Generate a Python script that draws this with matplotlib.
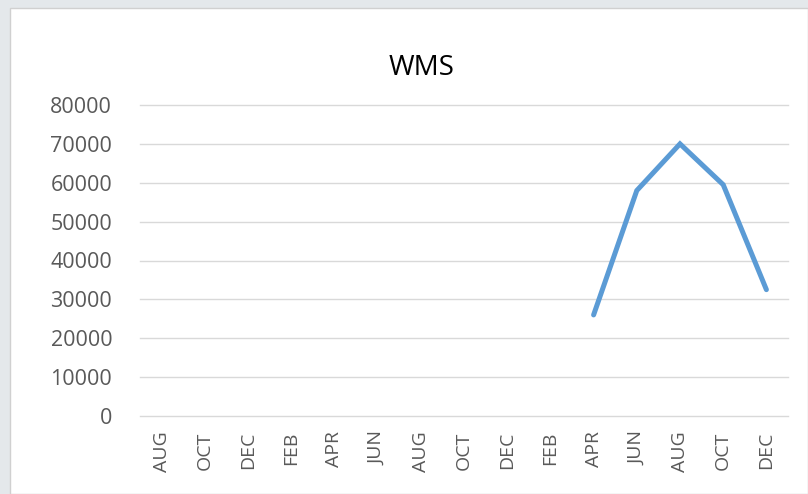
import numpy as np
import matplotlib.pyplot as plt
from matplotlib.patches import Rectangle

## dados
meses = ['AUG', 'OCT', 'DEC', 'FEB', 'APR', 'JUN', 'AUG', 'OCT', 'DEC', 'FEB',
         'APR', 'JUN', 'AUG', 'OCT', 'DEC']
wms = [np.nan] * 10 + [26000, 58000, 70000, 59500, 32500]
y_ticks = [0, 10000, 20000, 30000, 40000, 50000, 60000, 70000, 80000]

plt.rcParams['font.family'] = ['Open Sans', 'DejaVu Sans']

fig = plt.figure(figsize=(8.08, 4.94), dpi=100)
fig.patch.set_facecolor('#e4e8eb')
# painel branco do grafico
fig.patches.append(Rectangle((10 / 808, 0), 1 - 10 / 808, 1 - 8 / 494,
                             transform=fig.transFigure, facecolor='white',
                             edgecolor='#d0d0d0', lw=1, zorder=-10))

ax = fig.add_axes([140 / 808, 1 - 416 / 494, 648 / 808, 311 / 494])
ax.patch.set_alpha(0)
x = np.arange(len(meses))
ax.plot(x, wms, color='#5B9BD5', lw=3.6, solid_capstyle='round', solid_joinstyle='miter')

ax.set_xlim(-0.5, len(meses) - 0.5)
ax.set_ylim(0, 80000)
ax.set_yticks(y_ticks)
ax.set_yticklabels([str(v) for v in y_ticks], fontsize=15.5, color='#595959')
ax.set_xticks(x)
ax.set_xticklabels(meses, rotation=90, fontsize=14, color='#595959')
ax.tick_params(length=0)
ax.tick_params(axis='x', pad=11)
ax.tick_params(axis='y', pad=20)
ax.grid(axis='y', color='#d9d9d9', lw=1)
for g in ax.get_ygridlines():
    g.set_clip_on(False)
ax.set_axisbelow(True)
for s in ax.spines.values():
    s.set_visible(False)

fig.text(422 / 808, 1 - 68 / 494, 'WMS', ha='center', va='center', fontsize=20, color='black')

fig.savefig('out.png', dpi=100)
